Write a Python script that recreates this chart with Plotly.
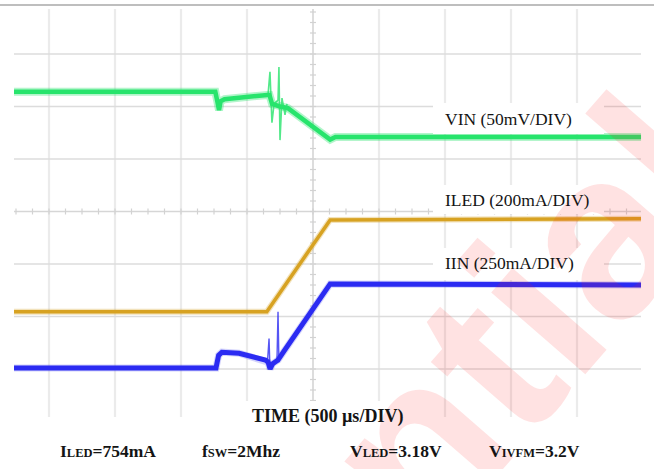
import plotly.graph_objects as go

# ---- acquisition data (time in microseconds, amplitude in screen divisions) ----
# VIN, 50 mV/div
vin_t = [-2265, -740, -725, -712, -700, -670, -345, -330, -310, -280, -250, -190, 130, 170, 2485]
vin_v = [2.28, 2.28, 2.10, 1.93, 2.10, 2.14, 2.22, 2.22, 2.05, 2.02, 2.00, 1.97, 1.37, 1.42, 1.42]
# VIN switching ringing at the transition
vin_ring_t = [-341, -326, -311, -295, -265, -258, -250, -235, -212, -197]
vin_ring_v = [2.22, 2.66, 1.69, 2.05, 2.12, 2.75, 1.36, 2.16, 1.84, 2.05]

# ILED, 200 mA/div
iled_t = [-2265, -350, 130, 2485]
iled_v = [-1.91, -1.91, -0.16, -0.14]

# IIN, 250 mA/div
iin_t = [-2265, -735, -715, -690, -560, -360, -340, -325, -305, -265, -225, 130, 2485]
iin_v = [-2.98, -2.98, -2.74, -2.68, -2.70, -2.83, -2.87, -3.00, -2.90, -2.83, -2.68, -1.38, -1.40]
iin_ring_t = [-345, -333, -326, -273, -265, -258]
iin_ring_v = [-2.87, -2.42, -3.00, -2.85, -1.91, -2.87]

channel_labels = ["VIN (50mV/DIV)", "ILED (200mA/DIV)", "IIN (250mA/DIV)"]
time_label = "TIME (500 µs/DIV)"

W, H = 654, 469
X0, PXDIV_X = 313, 66.0      # screen centre and pixels per horizontal division
Y0, PXDIV_Y = 211.5, 52.5    # screen centre and pixels per vertical division
US_PER_DIV = 500


def tx(px):
    return (px - X0) / PXDIV_X * US_PER_DIV


def ty(py):
    return (Y0 - py) / PXDIV_Y


def fx(px):
    return px / W


def fy(py):
    return 1 - py / H


GREEN = "#27e46c"
GOLD = "#d7a222"
BLUE = "#2b2bf2"

fig = go.Figure()


def trace(t, v, color, width, halo, opacity):
    fig.add_trace(go.Scatter(x=t, y=v, mode="lines", line=dict(color=color, width=halo),
                             opacity=opacity, hoverinfo="skip", showlegend=False))
    fig.add_trace(go.Scatter(x=t, y=v, mode="lines", line=dict(color=color, width=width),
                             hoverinfo="skip", showlegend=False))


trace(vin_t, vin_v, GREEN, 4.5, 8, 0.35)
fig.add_trace(go.Scatter(x=vin_ring_t, y=vin_ring_v, mode="lines",
                         line=dict(color=GREEN, width=1.6), opacity=0.8,
                         hoverinfo="skip", showlegend=False))
trace(iled_t, iled_v, GOLD, 3.5, 6, 0.3)
trace(iin_t, iin_v, BLUE, 5, 7, 0.2)
fig.add_trace(go.Scatter(x=iin_ring_t, y=iin_ring_v, mode="lines",
                         line=dict(color=BLUE, width=1.4), opacity=0.8,
                         hoverinfo="skip", showlegend=False))

shapes = []
grid_left, grid_right = tx(14), tx(641)
grid_top, grid_bottom = ty(9), ty(417)

# graticule: vertical division lines
for k in range(-4, 5):
    if k == 0:
        continue
    shapes.append(dict(type="line", xref="x", yref="y", x0=k * US_PER_DIV, x1=k * US_PER_DIV,
                       y0=grid_bottom, y1=grid_top, line=dict(color="#ebebeb", width=2.2),
                       layer="below"))
# horizontal division lines
for k in range(-3, 4):
    if k == 0:
        continue
    shapes.append(dict(type="line", xref="x", yref="y", x0=grid_left, x1=grid_right,
                       y0=k, y1=k, line=dict(color="#dcdcdc", width=1.5), layer="below"))
# centre axes with minor ticks
shapes.append(dict(type="line", xref="x", yref="y", x0=0, x1=0, y0=grid_bottom, y1=grid_top,
                   line=dict(color="#dadada", width=1.8), layer="below"))
shapes.append(dict(type="line", xref="x", yref="y", x0=grid_left, x1=grid_right, y0=0, y1=0,
                   line=dict(color="#d6d6d6", width=1.5), layer="below"))
tick_dx = 3 / PXDIV_X * US_PER_DIV
tick_dy = 3 / PXDIV_Y
for i in range(-20, 21):
    yv = i / 5
    if grid_bottom < yv < grid_top:
        shapes.append(dict(type="line", xref="x", yref="y", x0=-tick_dx, x1=tick_dx, y0=yv, y1=yv,
                           line=dict(color="#d2d2d2", width=1.2), layer="below"))
for i in range(-20, 21):
    xv = i * US_PER_DIV / 4
    if grid_left <= xv <= grid_right:
        shapes.append(dict(type="line", xref="x", yref="y", x0=xv, x1=xv, y0=-tick_dy, y1=tick_dy,
                           line=dict(color="#d2d2d2", width=1.2), layer="below"))

# page rule along the top edge
shapes.append(dict(type="line", xref="paper", yref="paper", x0=0, x1=1, y0=fy(5), y1=fy(5),
                   line=dict(color="#a9a9a9", width=1.5)))

# white label panels
for (y_top, y_bot) in [(103, 134), (185, 214), (248, 280)]:
    shapes.append(dict(type="rect", xref="paper", yref="paper", x0=fx(433), x1=fx(604),
                       y0=fy(y_bot), y1=fy(y_top), fillcolor="white", line=dict(width=0),
                       layer="above"))
shapes.append(dict(type="rect", xref="paper", yref="paper", x0=fx(240), x1=fx(412),
                   y0=fy(432), y1=fy(401), fillcolor="white", line=dict(width=0), layer="above"))

annotations = []
# watermark
annotations.append(dict(xref="paper", yref="paper", x=fx(237), y=fy(650), text="<b>Confidential</b>",
                        showarrow=False, textangle=-49, xanchor="center", yanchor="middle",
                        font=dict(family="Liberation Sans", size=236, color="rgba(255,30,30,0.13)")))

serif = "Liberation Serif"
for label, yc in zip(channel_labels, [119, 200, 263]):
    annotations.append(dict(xref="paper", yref="paper", x=fx(443), y=fy(yc), text=label,
                            showarrow=False, xanchor="left", yanchor="middle",
                            font=dict(family=serif, size=17.5, color="#141414")))
annotations.append(dict(xref="paper", yref="paper", x=fx(328), y=fy(416), text="<b>" + time_label + "</b>",
                        showarrow=False, xanchor="center", yanchor="middle",
                        font=dict(family=serif, size=18, color="#141414")))

sc = "<span style='font-size:12.5px'>{}</span>"
conditions = [
    (58, "I" + sc.format("LED") + "=754mA"),
    (200, "f" + sc.format("SW") + "=2Mhz"),
    (348, "V" + sc.format("LED") + "=3.18V"),
    (487, "V" + sc.format("IVFM") + "=3.2V"),
]
for xl, txt in conditions:
    annotations.append(dict(xref="paper", yref="paper", x=fx(xl), y=fy(451), text="<b>" + txt + "</b>",
                            showarrow=False, xanchor="left", yanchor="middle",
                            font=dict(family=serif, size=17.5, color="#141414")))

fig.update_layout(
    width=W, height=H, margin=dict(l=0, r=0, t=0, b=0),
    paper_bgcolor="white", plot_bgcolor="white",
    xaxis=dict(range=[tx(0), tx(W)], visible=False, fixedrange=True),
    yaxis=dict(range=[ty(H), ty(0)], visible=False, fixedrange=True),
    shapes=shapes, annotations=annotations, showlegend=False,
)

fig.write_html("out.html")
